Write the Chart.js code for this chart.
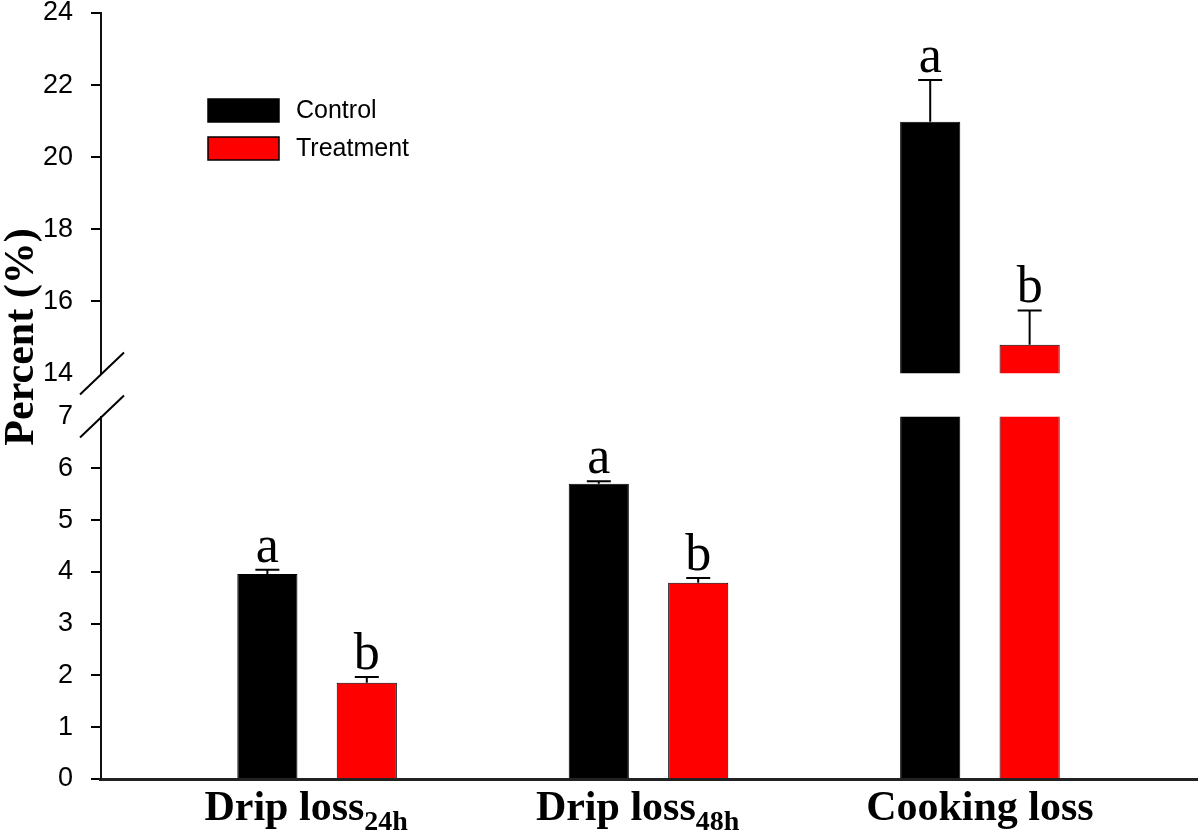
<!DOCTYPE html>
<html>
<head>
<meta charset="utf-8">
<script src="https://cdn.jsdelivr.net/npm/chart.js@4"></script>
<style>
    html, body { margin: 0; padding: 0; background: #fff; }
</style>
</head>
<body>
<canvas id="myChart" width="1200" height="837"></canvas>
<script>
// --- Chart data ---
const categories = ['Drip loss', 'Drip loss', 'Cooking loss'];
const subscripts = ['24h', '48h', ''];
const seriesNames = ['Control', 'Treatment'];
const controlValues = [3.96, 5.70, 20.98];
const treatmentValues = [1.86, 3.79, 14.80];
const controlErrors = [0.08, 0.05, 1.16];
const treatmentErrors = [0.11, 0.09, 0.95];
const controlLetters = ['a', 'a', 'a'];
const treatmentLetters = ['b', 'b', 'b'];
const lowTicks = [0, 1, 2, 3, 4, 5, 6, 7];
const highTicks = [14, 16, 18, 20, 22, 24];
const breakLow = 7;
const breakHigh = 14;

const seriesColors = ['#000000', '#ff0000'];
const seriesValues = [controlValues, treatmentValues];
const seriesErrors = [controlErrors, treatmentErrors];
const seriesLetters = [controlLetters, treatmentLetters];

const sansFont = '"Liberation Sans", Arial, sans-serif';
const serifFont = '"Liberation Serif", "Times New Roman", serif';

// one dataset per series on each side of the axis break
function makeDataset(i, axisId) {
    return {
        label: seriesNames[i],
        data: seriesValues[i].map((v, j) => ({ x: j, y: v })),
        yAxisID: axisId,
        stack: seriesNames[i],
        backgroundColor: seriesColors[i],
        borderColor: '#000',
        borderWidth: 1,
        borderSkipped: 'start',
        categoryPercentage: 0.6,
        barPercentage: 0.605,
        clip: 0
    };
}

function yAxis(min, max, ticks, weight) {
    return {
        type: 'linear',
        position: 'left',
        stack: 'percent',
        stackWeight: weight,
        stacked: false,
        min: min,
        max: max,
        afterBuildTicks: s => { s.ticks = ticks.map(v => ({ value: v })); },
        afterFit: s => { s.width = 58; s.paddingTop = 0; s.paddingBottom = 0; },
        ticks: {
            color: '#000',
            padding: 18,
            autoSkip: false,
            font: { family: sansFont, size: 27 }
        },
        grid: {
            drawOnChartArea: false,
            tickLength: 10,
            lineWidth: 2,
            tickColor: ctx => (ctx.tick && (ctx.tick.value === breakLow || ctx.tick.value === breakHigh)) ? 'rgba(0,0,0,0)' : '#000'
        },
        border: { color: '#111', width: 2 }
    };
}

// --- Plugin: clip each dataset to its own y segment ---
const segmentClip = {
    id: 'segmentClip',
    beforeDatasetDraw(chart, args) {
        const ys = chart.scales[args.meta.yAxisID];
        const ctx = chart.ctx;
        ctx.save();
        ctx.beginPath();
        ctx.rect(chart.chartArea.left, ys.top, chart.chartArea.width, ys.bottom - ys.top);
        ctx.clip();
    },
    afterDatasetDraw(chart) {
        chart.ctx.restore();
    }
};

// --- Plugin: error bars, letters, legend, labels, axis break ---
const decorations = {
    id: 'decorations',
    afterDraw(chart) {
        const ctx = chart.ctx;
        const area = chart.chartArea;
        const xs = chart.scales.x;
        const low = chart.scales.yLow;
        const high = chart.scales.yHigh;

        // error bars and letters
        ctx.save();
        ctx.strokeStyle = '#000';
        ctx.fillStyle = '#000';
        ctx.lineWidth = 2;
        ctx.textAlign = 'center';
        ctx.textBaseline = 'alphabetic';
        ctx.font = '52px ' + serifFont;
        for (let i = 0; i < 2; i++) {
            const meta = chart.getDatasetMeta(i);
            seriesValues[i].forEach((v, j) => {
                const scale = v >= breakHigh ? high : low;
                const x = meta.data[j].x;
                const top = scale.getPixelForValue(v);
                const cap = scale.getPixelForValue(v + seriesErrors[i][j]);
                ctx.beginPath();
                ctx.moveTo(x, top);
                ctx.lineTo(x, cap);
                ctx.moveTo(x - 12, cap);
                ctx.lineTo(x + 12, cap);
                ctx.stroke();
                ctx.fillText(seriesLetters[i][j], x, cap - 8);
            });
        }
        ctx.restore();

        // legend inside the plot
        ctx.save();
        ctx.font = '25px ' + sansFont;
        ctx.textBaseline = 'middle';
        ctx.textAlign = 'left';
        seriesNames.forEach((name, i) => {
            const bx = area.left + 107;
            const by = area.top + 86 + i * 38;
            ctx.fillStyle = seriesColors[i];
            ctx.fillRect(bx, by, 71, 23);
            ctx.strokeStyle = '#000';
            ctx.lineWidth = 1.5;
            ctx.strokeRect(bx, by, 71, 23);
            ctx.fillStyle = '#000';
            ctx.fillText(name, bx + 88, by + 12);
        });
        ctx.restore();

        // category labels with subscripts
        ctx.save();
        ctx.fillStyle = '#000';
        ctx.textAlign = 'left';
        ctx.textBaseline = 'alphabetic';
        categories.forEach((cat, j) => {
            const x = xs.getPixelForValue(j);
            ctx.font = 'bold 42px ' + serifFont;
            const wMain = ctx.measureText(cat).width;
            const wSubFull = subscripts[j] ? ctx.measureText(subscripts[j]).width : 0;
            const start = x - (wMain + wSubFull) / 2;
            ctx.fillText(cat, start, area.bottom + 41);
            if (subscripts[j]) {
                ctx.font = 'bold 28px ' + serifFont;
                ctx.fillText(subscripts[j], start + wMain, area.bottom + 51);
            }
        });
        ctx.restore();

        // y axis title
        ctx.save();
        ctx.translate(33, area.top + 324);
        ctx.rotate(-Math.PI / 2);
        ctx.fillStyle = '#000';
        ctx.textAlign = 'center';
        ctx.textBaseline = 'alphabetic';
        ctx.font = 'bold 42px ' + serifFont;
        ctx.fillText('Percent (%)', 0, 0);
        ctx.restore();

        // axis break marks
        ctx.save();
        ctx.strokeStyle = '#000';
        ctx.lineWidth = 2;
        [high.bottom, low.top].forEach(y => {
            const ax = area.left + 1;
            ctx.beginPath();
            ctx.moveTo(ax - 22, y + 21);
            ctx.lineTo(ax + 22, y - 21);
            ctx.stroke();
        });
        ctx.restore();
    }
};

// --- Chart Initialization ---
const ctx = document.getElementById('myChart');

const myChart = new Chart(ctx, {
    type: 'bar',
    data: {
        datasets: [
            makeDataset(0, 'yLow'),
            makeDataset(1, 'yLow'),
            makeDataset(0, 'yHigh'),
            makeDataset(1, 'yHigh')
        ]
    },
    options: {
        responsive: false,
        animation: false,
        layout: { padding: { left: 43, right: 3, top: 13, bottom: 58 } },
        plugins: {
            legend: { display: false },
            tooltip: { enabled: false }
        },
        scales: {
            x: {
                type: 'linear',
                offset: false,
                min: -0.652,
                max: 2.655,
                afterBuildTicks: s => { s.ticks = categories.map((c, j) => ({ value: j })); },
                ticks: { display: false },
                grid: { display: false, drawTicks: false, offset: false },
                border: { display: true, color: '#222', width: 3 }
            },
            yLow: yAxis(0, breakLow, lowTicks, 362),
            yGap: {
                type: 'linear',
                position: 'left',
                stack: 'percent',
                stackWeight: 43,
                display: false
            },
            yHigh: yAxis(breakHigh, 24, highTicks, 360)
        }
    },
    plugins: [segmentClip, decorations]
});
</script>
</body>
</html>
